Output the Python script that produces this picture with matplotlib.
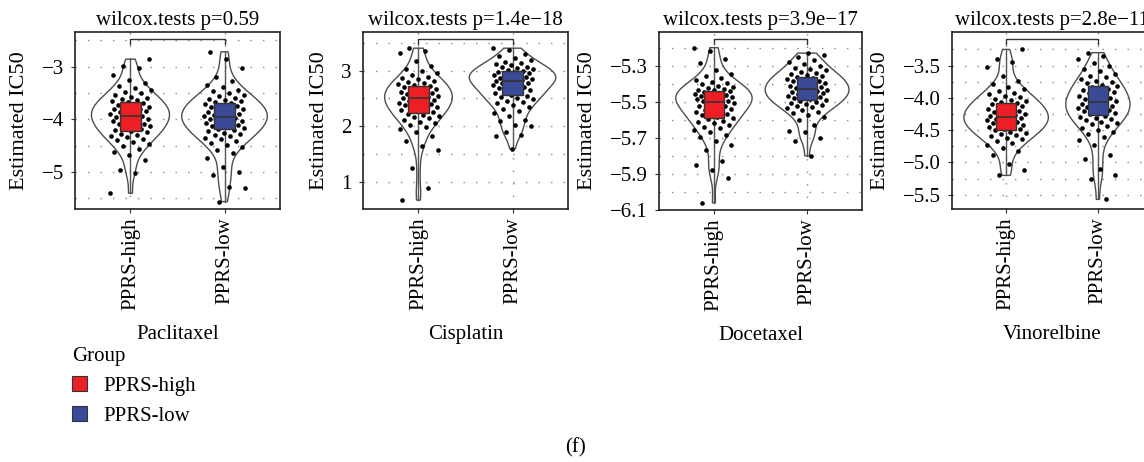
import numpy as np
import matplotlib
matplotlib.use("Agg")
import matplotlib.pyplot as plt
from matplotlib.patches import Patch
from matplotlib.transforms import blended_transform_factory

plt.rcParams['font.family'] = ['Liberation Serif', 'DejaVu Serif']
plt.rcParams['axes.unicode_minus'] = True

# ---------------- data ----------------
groups = ["PPRS-high", "PPRS-low"]
drugs = ["Paclitaxel", "Cisplatin", "Docetaxel", "Vinorelbine"]
pvalues = ["0.59", "1.4e\u221218", "3.9e\u221217", "2.8e\u221211"]

paclitaxel_high = [-5.40, -5.02, -4.97, -4.78, -4.68, -4.62, -4.56, -4.51, -4.47, -4.43, -4.40, -4.37,
                   -4.34, -4.31, -4.29, -4.27, -4.24, -4.22, -4.20, -4.18, -4.155, -4.13, -4.12, -4.095,
                   -4.08, -4.06, -4.04, -4.02, -4.005, -3.985, -3.967, -3.949,
                   -3.931, -3.915, -3.898, -3.88, -3.864, -3.848, -3.83, -3.812, -3.796, -3.776, -3.76,
                   -3.74, -3.72, -3.70, -3.68, -3.66, -3.64, -3.616, -3.592, -3.568, -3.54, -3.51, -3.48,
                   -3.44, -3.41, -3.365, -3.31, -3.25, -3.16, -3.02, -2.98, -2.86]
paclitaxel_low = [-5.56, -5.30, -5.28, -5.05, -5.00, -4.906, -4.734, -4.642, -4.578, -4.526, -4.482,
                  -4.446, -4.41, -4.378, -4.35, -4.322, -4.298, -4.274, -4.254, -4.23, -4.21, -4.19,
                  -4.17, -4.15, -4.13, -4.114, -4.094, -4.078, -4.06, -4.042, -4.026, -4.01, -3.992,
                  -3.975, -3.958,
                  -3.942, -3.926, -3.909, -3.892, -3.877, -3.861, -3.844, -3.826, -3.811, -3.792,
                  -3.776, -3.757, -3.738, -3.718, -3.699, -3.68, -3.657, -3.637, -3.614, -3.591,
                  -3.564, -3.537, -3.506, -3.471, -3.437, -3.394, -3.344, -3.282, -3.193, -3.027,
                  -2.85, -2.72]
cisplatin_high = [0.68, 0.90, 1.25, 1.577, 1.65, 1.743, 1.832, 1.894, 1.944, 1.987, 2.021, 2.056, 2.087,
                  2.114, 2.141, 2.164, 2.187, 2.207, 2.23, 2.249, 2.268, 2.288, 2.307, 2.326, 2.342,
                  2.361, 2.376, 2.394, 2.411, 2.427, 2.442, 2.459, 2.476, 2.492,
                  2.507, 2.521, 2.536, 2.551, 2.565, 2.578, 2.594, 2.609, 2.623, 2.64, 2.653, 2.671,
                  2.688, 2.705, 2.722, 2.739, 2.759, 2.776, 2.797, 2.817, 2.841, 2.865, 2.892, 2.923,
                  2.954, 2.991, 3.035, 3.09, 3.168, 3.315, 3.35, 3.40]
cisplatin_low = [1.60, 1.82, 1.854, 1.90, 2.00, 2.026, 2.10, 2.118, 2.182, 2.234, 2.278, 2.314, 2.35,
                 2.382, 2.41, 2.438, 2.462, 2.486, 2.506, 2.53, 2.55, 2.57, 2.59, 2.61, 2.63, 2.646,
                 2.666, 2.682, 2.70, 2.718, 2.734, 2.75, 2.768, 2.785, 2.802,
                 2.816, 2.828, 2.84, 2.852, 2.864, 2.875, 2.888, 2.90, 2.912, 2.926, 2.937, 2.951,
                 2.965, 2.979, 2.993, 3.007, 3.024, 3.038, 3.055, 3.072, 3.092, 3.112, 3.134, 3.16,
                 3.185, 3.216, 3.253, 3.298, 3.36, 3.40]
docetaxel_high = [-6.06, -5.92, -5.88, -5.85, -5.827, -5.769, -5.737, -5.715, -5.697, -5.682, -5.67,
                  -5.658, -5.647, -5.637, -5.627, -5.619, -5.611, -5.604, -5.596, -5.589, -5.582,
                  -5.575, -5.569, -5.562, -5.556, -5.549, -5.544, -5.538, -5.532, -5.526, -5.521,
                  -5.514, -5.509, -5.503,
                  -5.498, -5.494, -5.491, -5.486, -5.483, -5.479, -5.475, -5.471, -5.468, -5.463,
                  -5.459, -5.455, -5.45, -5.446, -5.441, -5.437, -5.432, -5.427, -5.422, -5.416,
                  -5.41, -5.404, -5.396, -5.388, -5.38, -5.37, -5.359, -5.344, -5.324, -5.285,
                  -5.26, -5.22, -5.20]
docetaxel_low = [-5.80, -5.72, -5.70, -5.669, -5.66, -5.626, -5.603, -5.587, -5.574, -5.563, -5.554,
                 -5.545, -5.537, -5.53, -5.523, -5.517, -5.511, -5.506, -5.50, -5.495, -5.49, -5.485,
                 -5.48, -5.475, -5.471, -5.466, -5.462, -5.458, -5.453, -5.449, -5.445, -5.441,
                 -5.436, -5.432,
                 -5.428, -5.423, -5.419, -5.414, -5.41, -5.406, -5.401, -5.397, -5.393, -5.387,
                 -5.383, -5.378, -5.373, -5.368, -5.362, -5.357, -5.351, -5.346, -5.34, -5.333,
                 -5.326, -5.319, -5.31, -5.301, -5.292, -5.28, -5.267, -5.25, -5.24, -5.23]
vinorelbine_high = [-5.20, -5.12, -5.021, -4.89, -4.819, -4.77, -4.731, -4.697, -4.669, -4.642, -4.617,
                    -4.596, -4.575, -4.556, -4.538, -4.523, -4.504, -4.489, -4.474, -4.458, -4.443,
                    -4.428, -4.415, -4.40, -4.388, -4.374, -4.36, -4.348, -4.336, -4.322, -4.309,
                    -4.296,
                    -4.283, -4.27, -4.256, -4.242, -4.229, -4.216, -4.201, -4.187, -4.174, -4.158,
                    -4.145, -4.129, -4.113, -4.097, -4.081, -4.065, -4.045, -4.029, -4.01, -3.99,
                    -3.968, -3.945, -3.92, -3.891, -3.862, -3.826, -3.784, -3.733, -3.659, -3.52,
                    -3.45, -3.40, -3.25]
vinorelbine_low = [-5.57, -5.25, -5.20, -5.10, -4.95, -4.883, -4.736, -4.658, -4.604, -4.56, -4.522,
                   -4.492, -4.461, -4.434, -4.41, -4.386, -4.366, -4.345, -4.328, -4.308, -4.291,
                   -4.274, -4.257, -4.24, -4.223, -4.209, -4.192, -4.179, -4.164, -4.148, -4.135,
                   -4.121, -4.106, -4.091, -4.077,
                   -4.062, -4.046, -4.029, -4.012, -3.997, -3.981, -3.964, -3.946, -3.931, -3.912,
                   -3.896, -3.877, -3.858, -3.838, -3.819, -3.80, -3.777, -3.757, -3.734, -3.711,
                   -3.684, -3.657, -3.626, -3.591, -3.557, -3.514, -3.464, -3.402, -3.35, -3.30]

# box statistics
box_q1 = [[-4.23, -4.19], [2.24, 2.56], [-5.59, -5.49], [-4.50, -4.27]]
box_med = [[-3.94, -3.95], [2.50, 2.81], [-5.50, -5.43], [-4.29, -4.07]]
box_q3 = [[-3.67, -3.69], [2.73, 3.00], [-5.44, -5.36], [-4.08, -3.81]]
box_lo = [[-5.40, -5.56], [0.68, 1.60], [-6.06, -5.80], [-5.20, -5.57]]
box_hi = [[-2.86, -2.70], [3.40, 3.40], [-5.20, -5.23], [-3.25, -3.30]]

# axis setup per panel
ylims = [(-5.70, -2.345), (0.52, 3.69), (-6.10, -5.113), (-5.72, -2.98)]
major_ticks = [[-5, -4, -3], [1, 2, 3], [-6.1, -5.9, -5.7, -5.5, -5.3], [-5.5, -5.0, -4.5, -4.0, -3.5]]
tick_labels = [["\u22125", "\u22124", "\u22123"], ["1", "2", "3"],
               ["\u22126.1", "\u22125.9", "\u22125.7", "\u22125.5", "\u22125.3"],
               ["\u22125.5", "\u22125.0", "\u22124.5", "\u22124.0", "\u22123.5"]]
minor_ticks = [[-5.5, -4.5, -3.5, -2.5], [1.5, 2.5, 3.5], [-6.0, -5.8, -5.6, -5.4, -5.2],
               [-5.25, -4.75, -4.25, -3.75, -3.25]]
violin_widths = [[0.83, 0.91], [0.72, 0.92], [0.82, 0.90], [0.92, 0.70]]

data = [[paclitaxel_high, paclitaxel_low], [cisplatin_high, cisplatin_low],
        [docetaxel_high, docetaxel_low], [vinorelbine_high, vinorelbine_low]]

colors = ["#ED1E24", "#3B4A96"]

# ---------------- figure ----------------
W, H = 1144, 462
fig = plt.figure(figsize=(W / 100, H / 100), dpi=100)

panel_px = [(75, 32, 205, 177), (363, 32, 205, 177), (659, 32, 203, 178), (952, 32, 200, 177)]
FS = 15
grid_kw = dict(color="#8a8a8a", linewidth=1.0, linestyle=(0, (1, 8)), zorder=0)

for k in range(4):
    x0, y0, w, h = panel_px[k]
    ax = fig.add_axes([x0 / W, 1 - (y0 + h) / H, w / W, h / H])
    ax.set_xlim(0.41, 2.59)
    ax.set_ylim(*ylims[k])
    positions = [1, 2]

    for yv in list(major_ticks[k]) + list(minor_ticks[k]):
        ax.axhline(yv, **grid_kw)
    for xv in positions:
        ax.axvline(xv, **grid_kw)

    for j in range(2):
        vp = ax.violinplot([data[k][j]], positions=[positions[j]], widths=violin_widths[k][j],
                           showextrema=False, bw_method=0.33)
        for b in vp['bodies']:
            b.set_facecolor('none')
            b.set_edgecolor('#4d4d4d')
            b.set_linewidth(1.0)
            b.set_alpha(1)
            b.set_zorder(2)

    for j in range(2):
        vals = np.asarray(data[k][j])
        n = len(vals)
        frac = (np.arange(n) * 0.6180339887 + 0.37 * j + 0.11 * k) % 1.0
        xs = positions[j] + (frac * 2 - 1) * 0.22
        ax.scatter(xs, vals, s=11, color='black', linewidths=0, zorder=3)

    stats = []
    for j in range(2):
        stats.append(dict(q1=box_q1[k][j], med=box_med[k][j], q3=box_q3[k][j],
                          whislo=box_lo[k][j], whishi=box_hi[k][j], fliers=[]))
    bp = ax.bxp(stats, positions=positions, widths=0.22, patch_artist=True, showfliers=False,
                showcaps=False,
                boxprops=dict(edgecolor='#333333', linewidth=1.0),
                medianprops=dict(color='#333333', linewidth=1.2),
                whiskerprops=dict(color='#555555', linewidth=1.0))
    for j, patch in enumerate(bp['boxes']):
        patch.set_facecolor(colors[j])
        patch.set_zorder(4)
    for line in bp['medians']:
        line.set_zorder(5)
    for line in bp['whiskers']:
        line.set_zorder(2.5)

    tr = blended_transform_factory(ax.transData, ax.transAxes)
    ax.plot([1, 1, 2, 2], [0.93, 0.958, 0.958, 0.93], color='#333333', linewidth=1.0,
            transform=tr, zorder=5, clip_on=False)

    ax.set_yticks(major_ticks[k])
    ax.set_yticklabels(tick_labels[k], fontsize=FS)
    ax.set_xticks(positions)
    ax.set_xticklabels(groups, rotation=90, fontsize=FS, va='top')
    ax.tick_params(axis='both', length=3, width=0.8, color='#333333', pad=3)
    ax.tick_params(axis='y', pad=5)
    for sp in ax.spines.values():
        sp.set_linewidth(1.2)
        sp.set_color('#222222')
    ax.set_ylabel("Estimated IC50", fontsize=16, labelpad=9)
    ax.set_xlabel(drugs[k], fontsize=FS, labelpad=11)
    ax.set_title("wilcox.tests p=" + pvalues[k], fontsize=FS, pad=5)

handles = [Patch(facecolor=colors[0], edgecolor='#333333', linewidth=0.8),
           Patch(facecolor=colors[1], edgecolor='#333333', linewidth=0.8)]
leg = fig.legend(handles, groups, title="Group", loc='upper left',
                 bbox_to_anchor=(72 / W, 1 - 347 / H), frameon=False, fontsize=FS,
                 title_fontsize=FS, handlelength=0.7, handleheight=0.7, handletextpad=0.8,
                 labelspacing=0.5, borderpad=0, borderaxespad=0, alignment='left')

fig.text(575 / W, 1 - 448 / H, "(f)", fontsize=FS, ha='center', va='center')

fig.savefig("out.png", dpi=100)
